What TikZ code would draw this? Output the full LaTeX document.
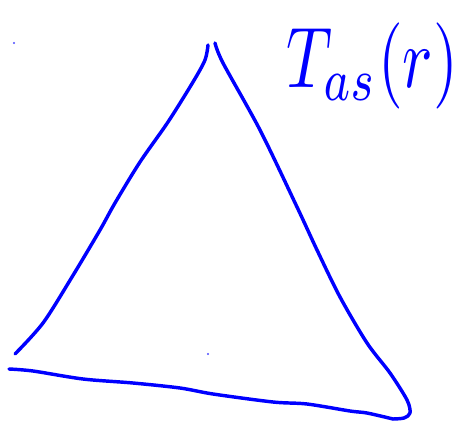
\documentclass[tikz,border=0pt]{standalone}
\usepackage{amsmath}
\usetikzlibrary{positioning}
\definecolor{penblue}{RGB}{0,0,255}
\tikzset{
  pen/.style={penblue,line width=2.6pt,line cap=round,line join=round},
  speck/.style={fill=penblue!70,draw=none}
}

\begin{document}
\begin{tikzpicture}[x=0.0265cm,y=-0.0265cm]
        \useasboundingbox (0,0) rectangle (472,425);

        % left side of the triangle
        \draw[pen] plot[smooth,tension=0.5] coordinates {
          (15,354) (43,323) (72,277) (100,230) (115,203) (140,162)
          (168,122) (193,82) (205,60) (208,45)};
        % right side, curling at the bottom corner
        \draw[pen] plot[smooth,tension=0.5] coordinates {
          (215,43) (223,63) (260,130) (297,207) (317,250) (340,297)
          (367,343) (390,373) (407,400) (410,413) (404,418) (393,419)};
        % base
        \draw[pen] plot[smooth,tension=0.5] coordinates {
          (9,369) (33,371) (83,379) (133,383) (180,388) (213,394)
          (273,402) (307,404) (350,411) (367,413) (393,419)};

        % label
        \node[penblue,xscale=4.8,yscale=6.5,inner sep=0pt] (lbl) at (372,66)
          {$T_{as}(r)$};

        % stray specks
        \fill[speck] (14,43) circle (1.2);
        \fill[speck] (208,354) circle (1.2);
\end{tikzpicture}
\end{document}
